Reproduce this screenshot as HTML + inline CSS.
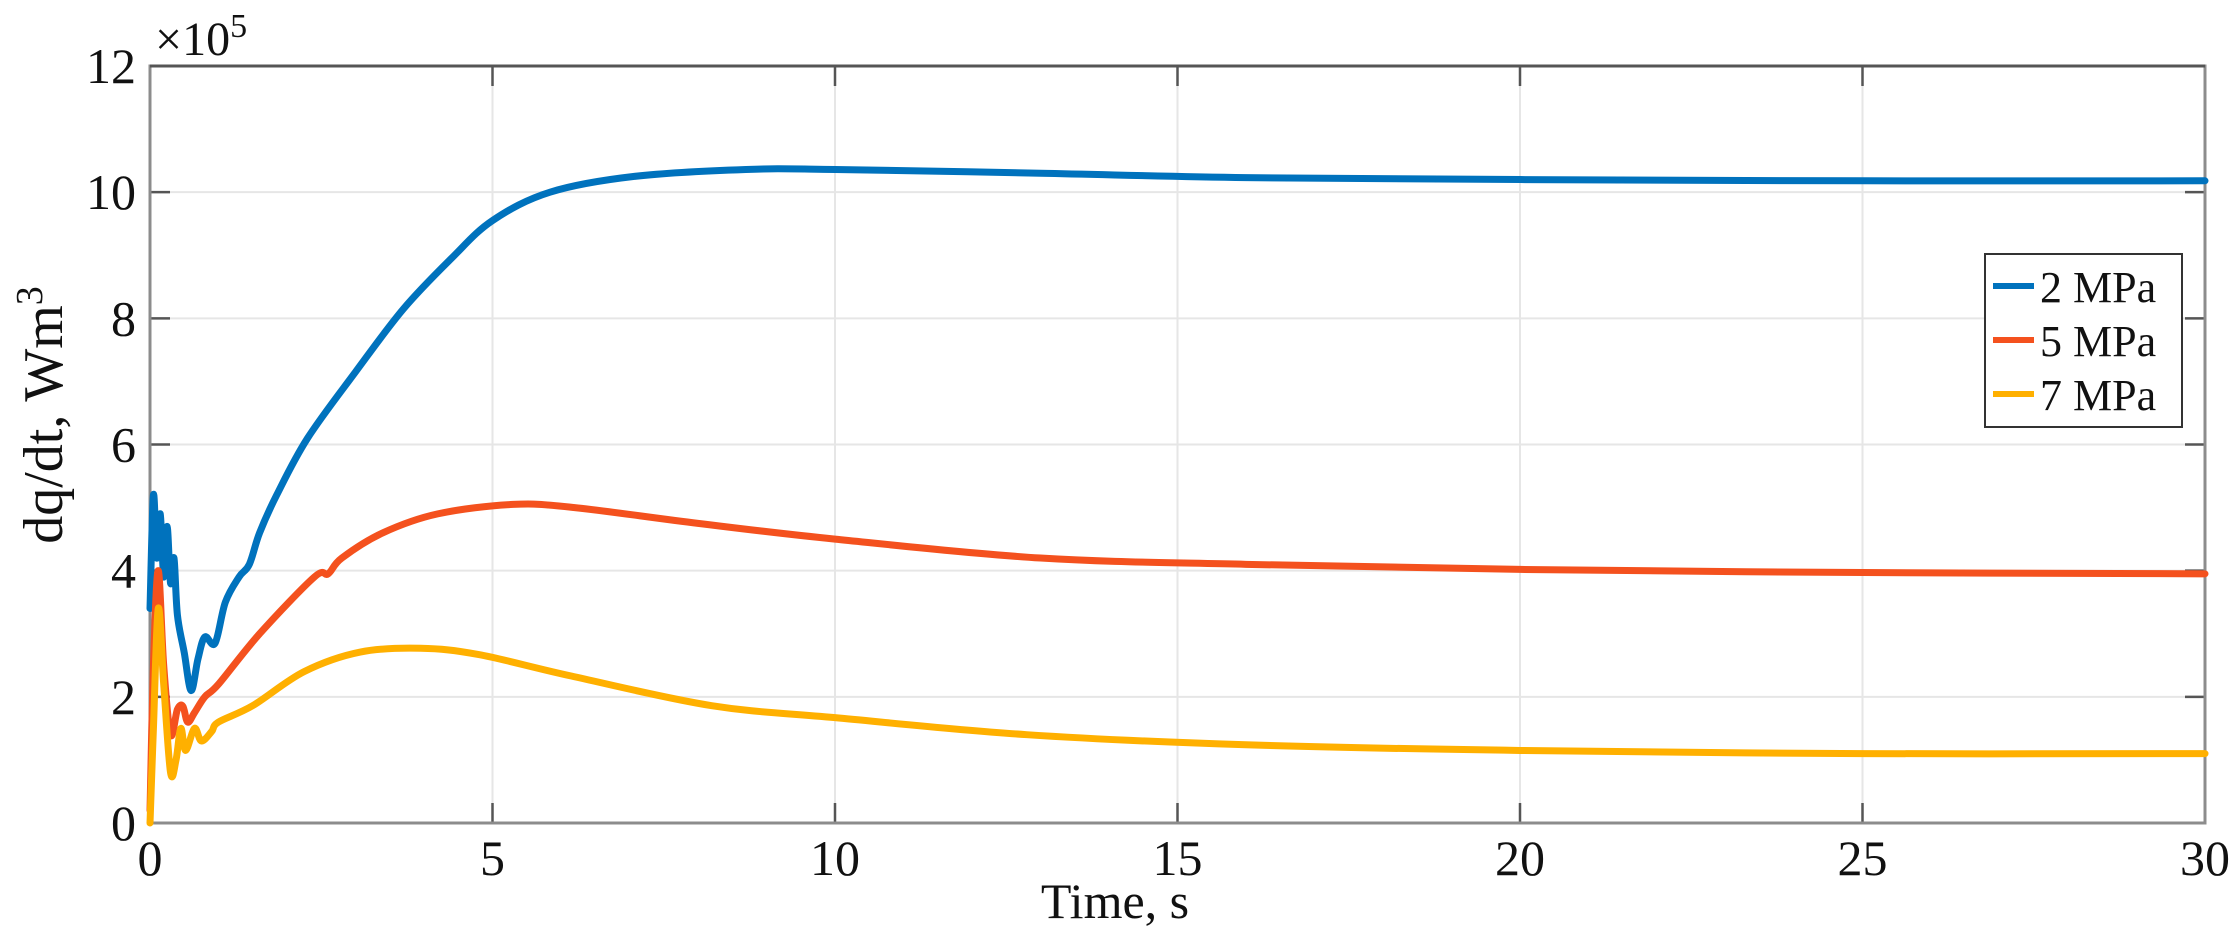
<!DOCTYPE html>
<html><head><meta charset="utf-8"><style>
html,body{margin:0;padding:0;background:#fff;}
svg{display:block;}
text{font-family:"Liberation Serif",serif;fill:#111;}
</style></head><body>
<svg id="s" width="2237" height="946" viewBox="0 0 2237 946" xmlns="http://www.w3.org/2000/svg">
<g id="grid" stroke="#e6e6e6" stroke-width="2"></g>
<g id="ticks" stroke="#555" stroke-width="2.5"></g>
<rect x="150" y="66" width="2055" height="757" fill="none" stroke="#8c8c8c" stroke-width="3"/>
<line x1="150" y1="66" x2="2205" y2="66" stroke="#555" stroke-width="3"/>
<g id="curves" fill="none" stroke-width="7" stroke-linejoin="round" stroke-linecap="round"></g>
<g id="labels" font-size="50"></g>
<text x="155" y="55" font-size="48" fill="#333">×10<tspan dy="-18" font-size="34">5</tspan></text>
<text x="1115" y="918" font-size="50" text-anchor="middle">Time, s</text>
<text transform="translate(62,415) rotate(-90)" font-size="56" text-anchor="middle">dq/dt, Wm<tspan dy="-20" font-size="38">3</tspan></text>
<g>
<rect x="1985" y="254" width="197" height="173" fill="#fff" stroke="#333" stroke-width="2"/>
<line x1="1993" y1="286" x2="2034" y2="286" stroke="#0072BD" stroke-width="6"/>
<line x1="1993" y1="340" x2="2034" y2="340" stroke="#F4511E" stroke-width="6"/>
<line x1="1993" y1="394" x2="2034" y2="394" stroke="#FFB000" stroke-width="6"/>
<text x="2040" y="302" font-size="44">2 MPa</text>
<text x="2040" y="356" font-size="44">5 MPa</text>
<text x="2040" y="410" font-size="44">7 MPa</text>
</g>
</svg>
<script>
var NS="http://www.w3.org/2000/svg";
function X(t){return 150+t*2055/30;}
function Y(v){return 823-v*757/12;}
function el(p,tag,a){var e=document.createElementNS(NS,tag);for(var k in a)e.setAttribute(k,a[k]);document.getElementById(p).appendChild(e);return e;}
for(var t=5;t<30;t+=5){el("grid","line",{x1:X(t),y1:66,x2:X(t),y2:823});}
for(var v=2;v<12;v+=2){el("grid","line",{x1:150,y1:Y(v),x2:2205,y2:Y(v)});}
for(var t=0;t<=30;t+=5){el("ticks","line",{x1:X(t),y1:823,x2:X(t),y2:803});el("ticks","line",{x1:X(t),y1:66,x2:X(t),y2:86});
 var tx=el("labels","text",{x:X(t),y:875,"text-anchor":"middle"});tx.textContent=t;}
for(var v=0;v<=12;v+=2){el("ticks","line",{x1:150,y1:Y(v),x2:170,y2:Y(v)});el("ticks","line",{x1:2205,y1:Y(v),x2:2185,y2:Y(v)});
 var ty=el("labels","text",{x:136,y:Y(v)+17,"text-anchor":"end"});ty.textContent=v;}
function path(pts){var P=pts.map(function(p){return [X(p[0]),Y(p[1])];});
 var d="M"+P[0][0]+","+P[0][1];
 for(var i=0;i<P.length-1;i++){var p0=P[Math.max(0,i-1)],p1=P[i],p2=P[i+1],p3=P[Math.min(P.length-1,i+2)];
  var k=6;
  d+=" C"+(p1[0]+(p2[0]-p0[0])/k)+","+(p1[1]+(p2[1]-p0[1])/k)+" "+(p2[0]-(p3[0]-p1[0])/k)+","+(p2[1]-(p3[1]-p1[1])/k)+" "+p2[0]+","+p2[1];}
 return d;}
var blue=[[0,3.4],[0.05,5.2],[0.1,4.2],[0.15,4.9],[0.2,3.9],[0.25,4.7],[0.3,3.8],[0.35,4.2],[0.4,3.3],[0.5,2.7],[0.6,2.1],[0.7,2.6],[0.8,2.95],[0.95,2.85],[1.1,3.5],[1.3,3.9],[1.45,4.1],[1.6,4.6],[1.85,5.2],[2.3,6.1],[3.0,7.15],[3.7,8.15],[4.4,8.95],[5.0,9.55],[5.84,10.0],[7.07,10.25],[8.7,10.36],[10,10.36],[13,10.3],[16,10.23],[20,10.2],[25,10.18],[30,10.18]];
var red=[[0,0.2],[0.05,2.5],[0.12,4.0],[0.2,2.5],[0.3,1.4],[0.4,1.8],[0.48,1.85],[0.55,1.6],[0.65,1.75],[0.8,2.0],[1.0,2.2],[1.6,3.0],[2.4,3.9],[2.6,3.95],[2.8,4.2],[3.4,4.6],[4.2,4.9],[5.3,5.05],[6.2,5.0],[8,4.75],[10,4.5],[13,4.2],[16,4.1],[20,4.02],[25,3.97],[30,3.95]];
var yel=[[0,0],[0.05,1.5],[0.12,3.4],[0.2,2.2],[0.3,0.8],[0.38,1.0],[0.45,1.5],[0.52,1.15],[0.65,1.5],[0.75,1.3],[0.9,1.45],[1.0,1.6],[1.5,1.86],[2.25,2.4],[3.07,2.71],[3.95,2.77],[4.8,2.67],[6.15,2.33],[8.2,1.86],[10,1.67],[12.8,1.4],[16,1.24],[20,1.15],[25,1.1],[30,1.1]];
el("curves","path",{d:path(blue),stroke:"#0072BD"});
el("curves","path",{d:path(red),stroke:"#F4511E"});
el("curves","path",{d:path(yel),stroke:"#FFB000"});
</script>
</body></html>
